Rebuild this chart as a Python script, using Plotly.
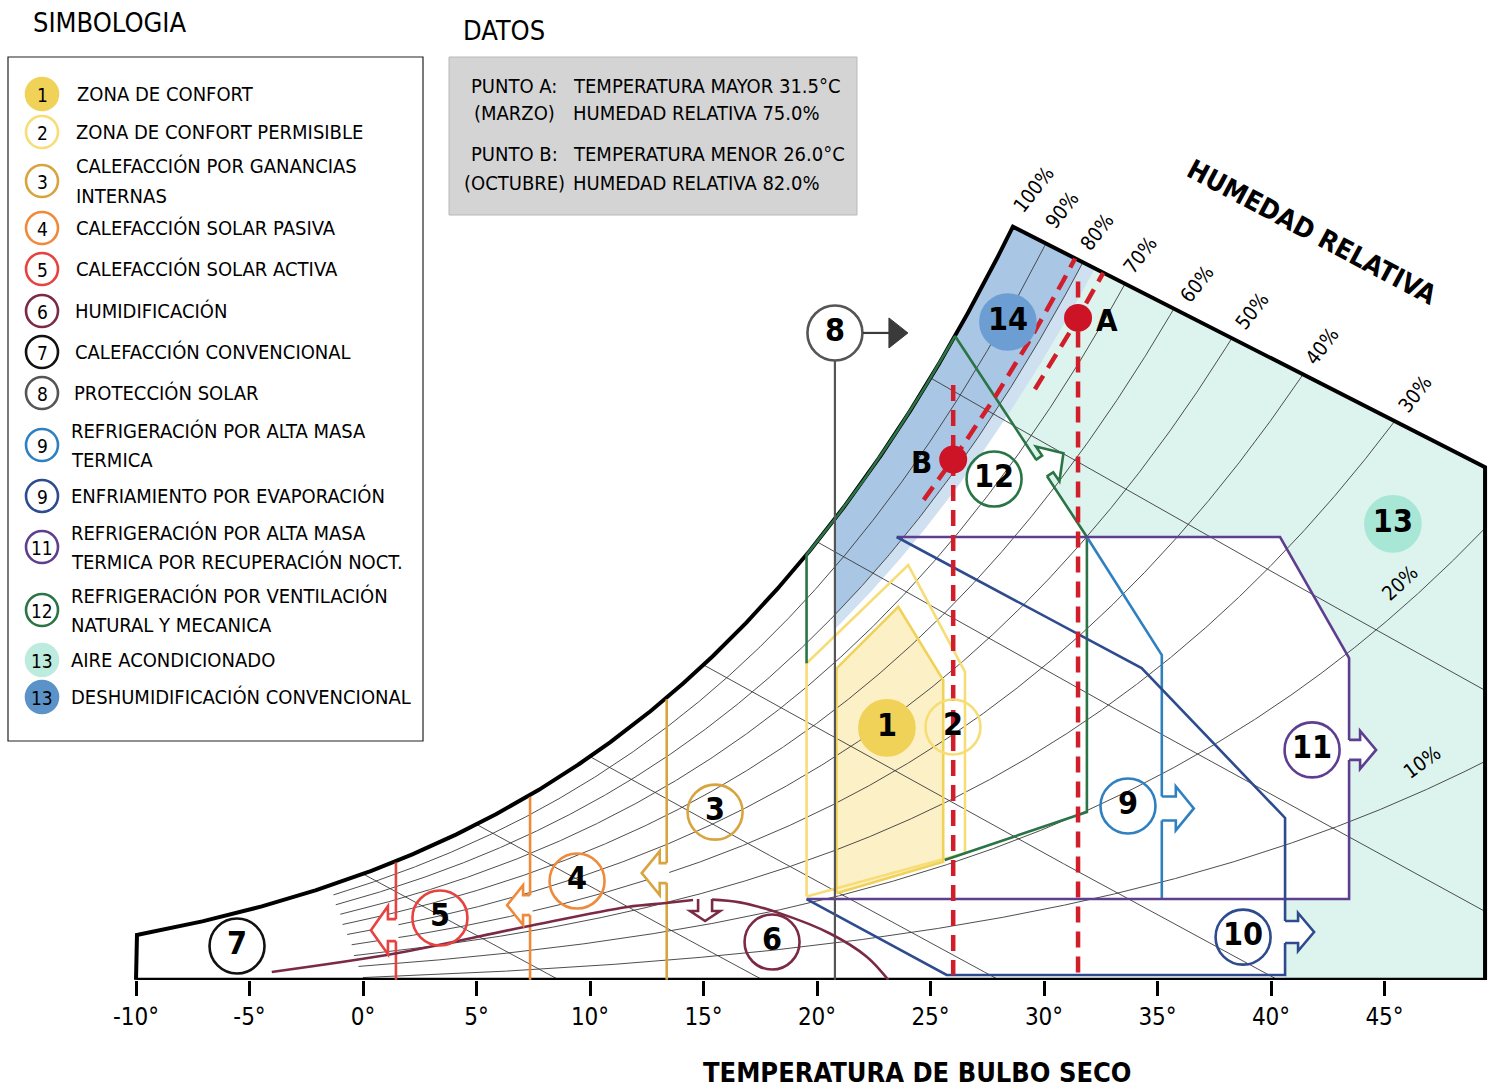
import numpy as np
import plotly.graph_objects as go

FONT = "DejaVu Sans Condensed, DejaVu Sans, sans-serif"
FIG_W, FIG_H, PLOT_H = 1490, 1091, 980

# ---------------------------------------------------------------- chart frame
T_TICKS = [-10, -5, 0, 5, 10, 15, 20, 25, 30, 35, 40, 45]
T_TICK_TEXT = ["-10°", "-5°", "0°", "5°", "10°", "15°", "20°", "25°", "30°", "35°", "40°", "45°"]
T_LEFT, T_RIGHT = -10.0, 49.43          # dry-bulb span of the frame (°C)
W_BASE = 0.30                            # humidity ratio on the base line (g/kg)
TOP_T = [28.63, 49.43]                   # slanted upper boundary
TOP_W = [24.99, 17.11]

RH_LEVELS = [90, 80, 70, 60, 50, 40, 30, 20, 10]
RH_START_T = [-1.3, -1.2, -1.0, -0.9, -0.7, -0.5, -0.4, -0.2, 0.0]
WB_LEVELS = [0, 5, 10, 15, 20, 25]

RH_LABELS = ["100%", "90%", "80%", "70%", "60%", "50%", "40%", "30%", "20%", "10%"]
RH_LABEL_T = [29.52, 30.79, 32.33, 34.23, 36.74, 39.16, 42.25, 46.34, 45.68, 46.65]
RH_LABEL_W = [26.20, 25.54, 24.82, 24.07, 23.11, 22.23, 21.08, 19.51, 13.31, 7.44]
RH_LABEL_ANGLE = [-52, -52, -52, -52, -52, -52, -52, -52, -43, -36]

# ---------------------------------------------------------------- strategy zones (°C, g/kg)
Z1_T = [20.86, 20.86, 23.58, 25.56, 25.56]
Z1_W = [3.14, 10.51, 12.53, 10.13, 4.17]
Z2_T = [19.54, 19.54, 24.02, 26.52, 26.52]
Z2_W = [3.03, 10.68, 13.90, 10.40, 4.45]
Z12_T = [25.63, 31.89, 31.89, 26.08, 19.54, 19.54]   # 4th->5th vertex runs on the saturation curve
Z12_W = [4.23, 5.80, 14.82, 21.41, 14.24, 10.68]
Z9_T = [31.89, 35.19, 35.19]
Z9_W = [14.82, 10.95, 2.95]
Z11_T = [23.51, 40.40, 43.44, 43.44, 19.54]
Z11_W = [14.82, 14.82, 10.85, 2.95, 2.95]
Z10_T = [23.51, 34.30, 40.62, 40.62, 25.71, 19.54]
Z10_W = [14.82, 10.52, 5.61, 0.46, 0.46, 2.95]
HEAT_T = [13.38, 7.36, 1.45]             # zones 3, 4, 5
HEAT_W_TOP = [9.50, 6.30, 4.15]
SHADE_T, SHADE_W_TOP = 20.79, 20.6       # zone 8
Z6_LEFT_T = [-4.02, 1.54, 7.09, 11.65, 13.35, 14.54]
Z6_LEFT_W = [0.56, 1.18, 2.03, 2.69, 2.82, 2.92]
Z6_RIGHT_T = [15.37, 16.60, 18.37, 20.57, 22.19, 23.14]
Z6_RIGHT_W = [2.93, 2.84, 2.48, 1.82, 1.06, 0.30]
BAND_T0, BAND_RH, HALO_RH = 20.79, 80, 77  # dehumidification band (zone 14)

# ---------------------------------------------------------------- climate points
PT_NAMES = ["A", "B"]
PT_T = [31.5, 26.0]
PT_RH = [75.0, 82.0]
PT_TRACE_T0 = [29.6, 24.7]
PT_DROP_TOP = [23.2, 19.8]

# ---------------------------------------------------------------- numbered tags
TAG_TEXT = ["1", "2", "3", "4", "5", "6", "7", "8", "9", "10", "11", "12", "13", "14"]
TAG_T = [23.08, 25.99, 15.51, 9.43, 3.39, 18.02, -5.55, 20.79, 33.70, 38.77, 41.81, 27.80, 45.37, 28.41]
TAG_W = [8.56, 8.59, 5.80, 3.54, 2.33, 1.54, 1.41, 21.51, 6.00, 1.70, 7.84, 16.72, 15.25, 21.87]

C = dict(
    z1="#F1D258", z1fill="#FCF1C6", z2="#F6DD76", z3="#D8A43E", z4="#EF8A3B", z5="#E7423F",
    z6="#7B2A45", z7="#111111", z8="#555555", z9="#2F80C0", z10="#2D4B8E", z11="#5E3E8F",
    z12="#2A7446", mint="#DDF4EE", mint_dot="#A8E6D5", band="#A9C7E5", halo="#CFE0F1",
    band_dot="#6C9ED3", red="#D01F2B", grid="#3A3A3A",
)
TAG_EDGE = [C["z1"], C["z2"], C["z3"], C["z4"], C["z5"], C["z6"], C["z7"], C["z8"], C["z9"],
            C["z10"], C["z11"], C["z12"], C["mint_dot"], C["band_dot"]]
TAG_FILL = [C["z1"]] + ["rgba(255,255,255,0)"] * 11 + [C["mint_dot"], C["band_dot"]]

LEGEND_NUM = ["1", "2", "3", "4", "5", "6", "7", "8", "9", "9", "11", "12", "13", "13"]
LEGEND_TEXT = [
    ["ZONA DE CONFORT"], ["ZONA DE CONFORT PERMISIBLE"], ["CALEFACCIÓN POR GANANCIAS", "INTERNAS"],
    ["CALEFACCIÓN SOLAR PASIVA"], ["CALEFACCIÓN SOLAR ACTIVA"], ["HUMIDIFICACIÓN"],
    ["CALEFACCIÓN CONVENCIONAL"], ["PROTECCIÓN SOLAR"], ["REFRIGERACIÓN POR ALTA MASA", "TERMICA"],
    ["ENFRIAMIENTO POR EVAPORACIÓN"], ["REFRIGERACIÓN POR ALTA MASA", "TERMICA POR RECUPERACIÓN NOCT."],
    ["REFRIGERACIÓN POR VENTILACIÓN", "NATURAL Y MECANICA"], ["AIRE ACONDICIONADO"],
    ["DESHUMIDIFICACIÓN CONVENCIONAL"],
]
LEGEND_EDGE = [C["z1"], C["z2"], C["z3"], C["z4"], C["z5"], C["z6"], C["z7"], C["z8"], C["z9"],
               C["z10"], C["z11"], C["z12"], "#BDEBDD", "#5B93C9"]
LEGEND_FILL = [C["z1"]] + ["rgba(0,0,0,0)"] * 11 + ["#BDEBDD", "#5B93C9"]
LEGEND_Y = [94, 132, 181, 228, 269, 311, 352, 393, 445, 496, 547, 610, 660, 697]
LEGEND_TX = [75, 74, 74, 74, 74, 73, 73, 72, 69, 69, 69, 69, 69, 69]

DATA_LEFT = ["PUNTO A:", "(MARZO)", "PUNTO B:", "(OCTUBRE)"]
DATA_RIGHT = ["TEMPERATURA MAYOR 31.5°C", "HUMEDAD RELATIVA 75.0%",
              "TEMPERATURA MENOR 26.0°C", "HUMEDAD RELATIVA 82.0%"]
DATA_Y = [86, 113, 154, 183]

# ---------------------------------------------------------------- psychrometrics
P_ATM = 101.325


def p_sat(t):
    t = np.asarray(t, dtype=float)
    return 0.61094 * np.exp(17.625 * t / (t + 243.04))


def w_rh(t, rh):
    pv = rh / 100.0 * p_sat(t)
    return 622.0 * pv / (P_ATM - pv)


def w_wb(t, twb):
    ws = w_rh(twb, 100) / 1000.0
    return 1000.0 * ((2501 - 2.326 * twb) * ws - 1.006 * (t - twb)) / (2501 + 1.86 * t - 4.186 * twb)


def w_top(t):
    t = np.asarray(t, dtype=float)
    return np.where(t >= TOP_T[0], np.interp(t, TOP_T, TOP_W), 1e9)


def clip_at(t, w, limit, above=True):
    ok = (w <= limit) if above else (w >= limit)
    if ok.all():
        return t, w
    k = int(np.argmax(~ok))
    d0, d1 = limit[k - 1] - w[k - 1], limit[k] - w[k]
    f = d0 / (d0 - d1)
    tc = t[k - 1] + f * (t[k] - t[k - 1])
    wc = w[k - 1] + f * (w[k] - w[k - 1])
    return np.append(t[:k], tc), np.append(w[:k], wc)


def rh_curve(rh, t0, t1=T_RIGHT):
    t = np.linspace(t0, t1, 900)
    return clip_at(t, w_rh(t, rh), w_top(t))


def wb_line(twb):
    t = np.linspace(twb, T_RIGHT, 700)
    return clip_at(t, w_wb(t, twb), np.full_like(t, W_BASE), above=False)


def sat_between(t0, t1, n=80):
    t = np.linspace(t0, t1, n)
    return t, w_rh(t, 100)


# ---------------------------------------------------------------- figure helpers
fig = go.Figure()


def line(t, w, color, width, dash=None, shape="linear"):
    fig.add_trace(go.Scatter(x=list(t), y=list(w), mode="lines", hoverinfo="skip", showlegend=False,
                             line=dict(color=color, width=width, dash=dash, shape=shape)))


def area(t, w, color, edge=None, width=0):
    fig.add_trace(go.Scatter(x=list(t), y=list(w), mode="lines", fill="toself", fillcolor=color,
                             hoverinfo="skip", showlegend=False,
                             line=dict(color=edge or color, width=width)))


def px(x):
    return x / FIG_W


def py(y):
    return 1 - y / PLOT_H


def label(x, y, text, size, anchor="center", bold=False, angle=0):
    fig.add_annotation(x=px(x), y=py(y), xref="paper", yref="paper", text=text, showarrow=False,
                       xanchor=anchor, yanchor="middle", textangle=angle,
                       font=dict(family=FONT, size=size, color="black", weight="bold" if bold else "normal"))


# ---------------------------------------------------------------- fills
t_top_sat, w_top_sat = sat_between(Z12_T[3], TOP_T[0])
mint_t = [Z12_T[2]] + list(t_top_sat) + [TOP_T[1], T_RIGHT, Z10_T[2], Z10_T[2], Z11_T[2], Z11_T[2], Z11_T[1]]
mint_w = [Z12_W[2]] + list(w_top_sat) + [TOP_W[1], W_BASE, W_BASE, Z11_W[3], Z11_W[3], Z11_W[2], Z11_W[1]]
area(mint_t, mint_w, C["mint"])

t80, w80 = rh_curve(BAND_RH, BAND_T0)
thalo, whalo = rh_curve(HALO_RH, BAND_T0)
area(list(t80) + [t80[-1] + 0.9] + list(thalo[::-1]), list(w80) + [w_top(t80[-1] + 0.9)] + list(whalo[::-1]), C["halo"])
tb, wb = sat_between(BAND_T0, TOP_T[0])
area(list(tb) + list(t80[::-1]), list(wb) + list(w80[::-1]), C["band"])

area(Z1_T + [Z1_T[0]], Z1_W + [Z1_W[0]], C["z1fill"])

# ---------------------------------------------------------------- psychrometric grid
for rh, t0 in zip(RH_LEVELS, RH_START_T):
    t, w = rh_curve(rh, t0)
    line(t, w, C["grid"], 0.9)
for twb in WB_LEVELS:
    t, w = wb_line(twb)
    line(t, w, C["grid"], 0.9)

# frame: saturation curve, upper edge, right edge, base line
ts, ws = rh_curve(100, T_LEFT, TOP_T[0])
frame_t = [T_LEFT, T_LEFT] + list(ts) + [TOP_T[1], T_RIGHT, T_LEFT]
frame_w = [W_BASE, ws[0]] + list(ws) + [TOP_W[1], W_BASE, W_BASE]
line(frame_t, frame_w, "black", 4)

# ---------------------------------------------------------------- zone outlines
line(Z2_T + [Z2_T[0]], Z2_W + [Z2_W[0]], C["z2"], 2.6)
line(Z1_T + [Z1_T[0]], Z1_W + [Z1_W[0]], C["z1"], 2.6)
ts12, ws12 = sat_between(Z12_T[3], Z12_T[4], 60)
line(Z12_T[:4] + list(ts12) + Z12_T[4:], Z12_W[:4] + list(ws12) + Z12_W[4:], C["z12"], 2.6)
line(Z9_T, Z9_W, C["z9"], 2.6)
line(Z11_T, Z11_W, C["z11"], 2.6)
line(Z10_T, Z10_W, C["z10"], 2.6)
for t, wt, col in zip(HEAT_T, HEAT_W_TOP, [C["z3"], C["z4"], C["z5"]]):
    line([t, t], [wt, W_BASE], col, 2.6)
line([SHADE_T, SHADE_T], [SHADE_W_TOP, W_BASE], C["z8"], 2.2)
line(Z6_LEFT_T, Z6_LEFT_W, C["z6"], 2.6, shape="spline")
line(Z6_RIGHT_T, Z6_RIGHT_W, C["z6"], 2.6, shape="spline")

# ---------------------------------------------------------------- climate points A / B
pt_w = [float(w_rh(t, rh)) for t, rh in zip(PT_T, PT_RH)]
for t, rh, t0, wtop in zip(PT_T, PT_RH, PT_TRACE_T0, PT_DROP_TOP):
    tc, wc = rh_curve(rh, t0)
    line(tc, wc, C["red"], 4.5, dash="16px,9px")
    line([t, t], [wtop, Z10_W[3]], C["red"], 4.5, dash="16px,9px")
fig.add_trace(go.Scatter(x=PT_T, y=pt_w, mode="markers", hoverinfo="skip", showlegend=False,
                         marker=dict(size=28, color="#CC1426")))
for name, t, w, dx in zip(PT_NAMES, PT_T, pt_w, [29, -32]):
    fig.add_annotation(x=t, y=w, text=name, showarrow=False, xshift=dx, yshift=-2,
                       xanchor="center", yanchor="middle",
                       font=dict(family=FONT, size=31, color="black", weight="bold"))

# ---------------------------------------------------------------- numbered tags
fig.add_trace(go.Scatter(
    x=TAG_T, y=TAG_W, mode="markers+text", text=TAG_TEXT, textposition="middle center",
    hoverinfo="skip", showlegend=False,
    textfont=dict(family=FONT, size=32, color="black", weight="bold"),
    marker=dict(size=55, color=TAG_FILL, line=dict(color=TAG_EDGE, width=2.6)),
))


# ---------------------------------------------------------------- block arrows
def arrow_pts(sh, sl, hh, hl):
    return [(0, sh), (sl, sh), (sl, hh), (sl + hl, 0), (sl, -hh), (sl, -sh), (0, -sh)]


def rot(pts, ang):
    a = np.radians(ang)
    ca, sa = np.cos(a), np.sin(a)
    return [(x * ca - y * sa, x * sa + y * ca) for x, y in pts]


def path(pts, close=False):
    s = "M " + " L ".join(f"{x:.2f},{y:.2f}" for x, y in pts)
    return s + (" Z" if close else "")


ARROWS = [  # anchor T, anchor W, direction (deg), shaft half, shaft len, head half, head len, colour
    (35.19, 5.92, 0, 12, 14, 22, 18, C["z9"]),
    (40.62, 1.87, 0, 11, 13, 19, 16, C["z10"]),
    (43.44, 7.84, 0, 10, 11, 19, 16, C["z11"]),
    (29.87, 17.07, 34, 10, 8, 21, 19, C["z12"]),
    (13.38, 3.80, 180, 10, 7, 22, 18, C["z3"]),
    (7.36, 2.75, 180, 10, 7, 20, 16, C["z4"]),
    (1.45, 1.93, 180, 11, 8, 24, 17, C["z5"]),
    (15.07, 2.95, -90, 7, 12, 15, 10, C["z6"]),
]
for t, w, ang, sh, sl, hh, hl, col in ARROWS:
    outline = rot(arrow_pts(sh, sl, hh, hl), ang)
    cover = rot([(-2.5, sh)] + arrow_pts(sh, sl, hh, hl)[1:-1] + [(-2.5, -sh)], ang)
    common = dict(type="path", xref="x", yref="y", xsizemode="pixel", ysizemode="pixel",
                  xanchor=t, yanchor=w, layer="above")
    fig.add_shape(path=path(cover, True), fillcolor="white", line=dict(width=0), **common)
    fig.add_shape(path=path(outline), fillcolor="rgba(0,0,0,0)", line=dict(color=col, width=2.6), **common)

# pointer from tag 8
common8 = dict(type="path", xref="x", yref="y", xsizemode="pixel", ysizemode="pixel",
               xanchor=TAG_T[7], yanchor=TAG_W[7], layer="above")
fig.add_shape(path="M 28,0 L 55,0", line=dict(color="#3A3A3A", width=2.2), **common8)
fig.add_shape(path="M 54,15 L 73,0 L 54,-15 Z", fillcolor="#3A3A3A", line=dict(color="#3A3A3A", width=1), **common8)

# ---------------------------------------------------------------- chart texts
for txt, t, w, ang in zip(RH_LABELS, RH_LABEL_T, RH_LABEL_W, RH_LABEL_ANGLE):
    fig.add_annotation(x=t, y=w, text=txt, showarrow=False, textangle=ang, xanchor="center", yanchor="middle",
                       font=dict(family=FONT, size=20, color="black"))
label(1311, 232, "HUMEDAD RELATIVA", 27, bold=True, angle=28)
label(917, 1072, "TEMPERATURA DE BULBO SECO", 27, bold=True)

# ---------------------------------------------------------------- legend panel
label(110, 23, "SIMBOLOGIA", 27)
fig.add_shape(type="rect", xref="paper", yref="paper", x0=px(8), x1=px(423), y0=py(741), y1=py(57),
              line=dict(color="#222222", width=1.2), fillcolor="white", layer="below")
for num, lines, edge, fill, y, tx in zip(LEGEND_NUM, LEGEND_TEXT, LEGEND_EDGE, LEGEND_FILL, LEGEND_Y, LEGEND_TX):
    r = 16
    fig.add_shape(type="circle", xref="paper", yref="paper", x0=px(42 - r), x1=px(42 + r),
                  y0=py(y + r), y1=py(y - r), fillcolor=fill, line=dict(color=edge, width=2.6))
    label(42, y + 1, num, 19)
    offs = [0] if len(lines) == 1 else [-14.5, 14.5]
    for txt, dy in zip(lines, offs):
        label(tx, y + dy, txt, 20, anchor="left")

# ---------------------------------------------------------------- data panel
label(504, 30, "DATOS", 27)
fig.add_shape(type="rect", xref="paper", yref="paper", x0=px(449), x1=px(857), y0=py(215), y1=py(57),
              line=dict(color="#B8B8B8", width=1), fillcolor="#D4D4D4", layer="below")
for left, right, y in zip(DATA_LEFT, DATA_RIGHT, DATA_Y):
    label(514, y, left, 20)
    label(571, y, right, 20, anchor="left")

fig.update_layout(
    width=FIG_W, height=FIG_H, margin=dict(l=0, r=0, t=0, b=FIG_H - PLOT_H),
    paper_bgcolor="white", plot_bgcolor="rgba(0,0,0,0)", showlegend=False,
    xaxis=dict(range=[-15.9912, 49.6476], tickvals=T_TICKS, ticktext=T_TICK_TEXT, ticks="outside",
               ticklen=15, tickwidth=2.5, tickcolor="black", showline=False, showgrid=False,
               zeroline=False, fixedrange=True, tickfont=dict(family=FONT, size=24, color="black")),
    yaxis=dict(range=[0.2951, 32.4262], visible=False, fixedrange=True),
)

fig.write_html("out.html")
